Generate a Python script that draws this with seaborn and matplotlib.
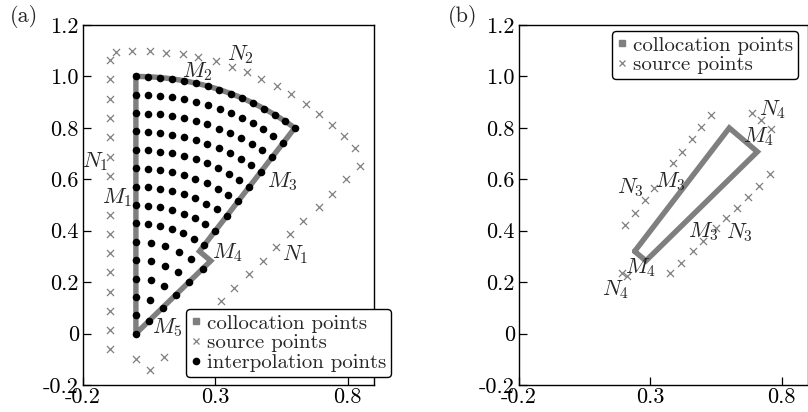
import numpy as np
import pandas as pd
import matplotlib
matplotlib.use("Agg")
import matplotlib.pyplot as plt
from matplotlib.lines import Line2D
import seaborn as sns

# ---- panel (a): interpolation grid, one radius per row + angles (deg) of the dots in that row
interp_radius = [0.0, 0.071, 0.143, 0.214, 0.286, 0.357, 0.429, 0.5, 0.571,
                 0.643, 0.714, 0.786, 0.857, 0.929, 1.0]
interp_angles = [
    [90],
    [90, 45],
    [90, 67.5, 45],
    [90, 75, 60, 45],
    [90, 78.8, 67.5, 56.3, 45],
    [90, 81, 72, 63, 54, 45],
    [90, 83.9, 77.7, 71.6, 65.4, 59.3, 53.1],
    [90, 84.7, 79.5, 74.2, 68.9, 63.7, 58.4, 53.1],
    [90, 85.4, 80.8, 76.2, 71.6, 67.0, 62.3, 57.7, 53.1],
    [90, 85.9, 81.8, 77.7, 73.6, 69.5, 65.4, 61.3, 57.2, 53.1],
    [90, 86.3, 82.6, 78.9, 75.3, 71.6, 67.9, 64.2, 60.5, 56.8, 53.1],
    [90, 86.6, 83.3, 79.9, 76.6, 73.2, 69.9, 66.5, 63.2, 59.8, 56.5, 53.1],
    [90, 86.9, 83.9, 80.8, 77.7, 74.6, 71.6, 68.5, 65.4, 62.3, 59.3, 56.2, 53.1],
    [90, 87.2, 84.3, 81.5, 78.7, 75.8, 73.0, 70.1, 67.3, 64.5, 61.6, 58.8, 56.0, 53.1],
    [90, 87.4, 84.7, 82.1, 79.5, 76.8, 74.2, 71.6, 68.9, 66.3, 63.7, 61.0, 58.4, 55.8, 53.1],
]

# boundary (collocation) paths, polar form: radius / angle in degrees
colloc_a_r = [0, 1, 1, 1, 1, 1, 1, 1, 1, 1, 1, 1, 1, 1, 1, 1, 0.4, 0.4, 0]
colloc_a_deg = [90, 90, 87.4, 84.7, 82.1, 79.5, 76.8, 74.2, 71.6, 68.9, 66.3, 63.7,
                61.0, 58.4, 55.8, 53.1, 53.1, 45, 45]
colloc_b_r = [0.4, 1, 1, 0.4, 0.4]
colloc_b_deg = [53.1, 53.1, 45, 45, 53.1]

# source points
src_a_x = [-0.097, -0.097, -0.097, -0.097, -0.097, -0.097, -0.097, -0.097, -0.097,
           -0.097, -0.097, -0.097, -0.097, -0.097, -0.097,
           -0.077, -0.014, 0.053, 0.112, 0.177, 0.234, 0.301, 0.364, 0.420, 0.474,
           0.534, 0.588, 0.643, 0.691, 0.741, 0.785, 0.829, 0.848, 0.794, 0.743,
           0.691, 0.632, 0.584, 0.531, 0.479, 0.426, 0.370, 0.320,
           0.0, 0.055, 0.108]
src_a_y = [1.064, 0.989, 0.913, 0.838, 0.763, 0.688, 0.613, 0.463, 0.388, 0.313,
           0.238, 0.163, 0.088, 0.013, -0.060,
           1.096, 1.100, 1.100, 1.093, 1.086, 1.075, 1.060, 1.038, 1.016, 0.989,
           0.963, 0.931, 0.892, 0.853, 0.812, 0.767, 0.722, 0.650, 0.602, 0.543,
           0.494, 0.439, 0.389, 0.336, 0.282, 0.230, 0.178, 0.126,
           -0.100, -0.143, -0.091]
src_b_x = [0.204, 0.241, 0.279, 0.314, 0.385, 0.419, 0.460, 0.491, 0.529,
           0.687, 0.722, 0.760,
           0.754, 0.714, 0.672, 0.631, 0.587, 0.548, 0.501, 0.464, 0.416, 0.376,
           0.191, 0.210]
src_b_y = [0.424, 0.469, 0.521, 0.566, 0.663, 0.708, 0.756, 0.803, 0.851,
           0.857, 0.829, 0.795,
           0.622, 0.575, 0.531, 0.489, 0.450, 0.411, 0.359, 0.320, 0.275, 0.236,
           0.236, 0.223]

labels_a = [("$N_2$", 0.394, 1.084), ("$M_2$", 0.232, 1.019), ("$N_1$", -0.152, 0.670),
            ("$M_1$", -0.070, 0.527), ("$M_3$", 0.552, 0.592), ("$M_4$", 0.345, 0.314),
            ("$N_1$", 0.603, 0.307), ("$M_5$", 0.118, 0.023)]
labels_b = [("$N_4$", 0.767, 0.870), ("$M_4$", 0.713, 0.767), ("$N_3$", 0.225, 0.566),
            ("$M_3$", 0.375, 0.592), ("$M_3$", 0.500, 0.398), ("$N_3$", 0.638, 0.392),
            ("$M_4$", 0.262, 0.256), ("$N_4$", 0.168, 0.172)]

GREY = "#7f7f7f"


def polar_to_xy(r, deg):
    r = np.asarray(r, dtype=float)
    t = np.deg2rad(np.asarray(deg, dtype=float))
    return r * np.cos(t), r * np.sin(t)


sns.set_theme(style="white")
plt.rcParams.update({
    "font.family": ["cmr10", "DejaVu Serif"],
    "mathtext.fontset": "cm",
    "axes.unicode_minus": False,
    "axes.formatter.use_mathtext": True,
    "axes.edgecolor": "black",
    "axes.linewidth": 1.0,
    "xtick.bottom": True, "ytick.left": True,
    "xtick.direction": "in", "ytick.direction": "in",
    "xtick.major.size": 6, "ytick.major.size": 6,
    "xtick.major.width": 0.9, "ytick.major.width": 0.9,
    "xtick.color": "black", "ytick.color": "black",
})

fig = plt.figure(figsize=(8.08, 4.12), dpi=100)
ax_a = fig.add_axes([83 / 808, 27 / 412, 291 / 808, 360 / 412])
ax_b = fig.add_axes([519 / 808, 27 / 412, 289 / 808, 360 / 412])


def draw_panel(ax, c_r, c_deg, sx, sy, labels):
    cx, cy = polar_to_xy(c_r, c_deg)
    sns.lineplot(x=cx, y=cy, sort=False, estimator=None, color=GREY, lw=3.9,
                 ax=ax, solid_joinstyle="miter")
    sns.scatterplot(x=sx, y=sy, marker="x", color=GREY, s=26, linewidth=0.9, ax=ax)
    for txt, x, y in labels:
        ax.text(x, y, txt, fontsize=16, ha="center", va="center")
    ax.set_xlim(-0.2, 0.9)
    ax.set_ylim(-0.2, 1.2)
    ax.set_xticks([-0.2, 0.3, 0.8])
    ax.set_xticklabels(["-0.2", "0.3", "0.8"])
    ax.set_yticks([-0.2, 0, 0.2, 0.4, 0.6, 0.8, 1.0, 1.2])
    ax.set_yticklabels(["-0.2", "0", "0.2", "0.4", "0.6", "0.8", "1.0", "1.2"])
    ax.tick_params(labelsize=16, pad=3)
    ax.tick_params(axis="x", pad=2)
    for sp in ax.spines.values():
        sp.set_visible(True)


draw_panel(ax_a, colloc_a_r, colloc_a_deg, src_a_x, src_a_y, labels_a)
draw_panel(ax_b, colloc_b_r, colloc_b_deg, src_b_x, src_b_y, labels_b)

# interpolation points
rows = []
for r, angs in zip(interp_radius, interp_angles):
    for a in angs:
        rows.append((r, a))
ix, iy = polar_to_xy([p[0] for p in rows], [p[1] for p in rows])
interp = pd.DataFrame({"x": ix, "y": iy})
sns.scatterplot(data=interp, x="x", y="y", color="black", s=30, linewidth=0,
                ax=ax_a, zorder=3)

for ax in (ax_a, ax_b):
    ax.set_xlabel("")
    ax.set_ylabel("")

h_col = Line2D([], [], ls="none", marker="s", color=GREY, markersize=4)
h_src = Line2D([], [], ls="none", marker="x", color=GREY, markersize=4.5, mew=0.9)
h_int = Line2D([], [], ls="none", marker="o", color="black", markersize=4.5)
leg_kw = dict(fontsize=15, fancybox=True, framealpha=1, edgecolor="black",
              handlelength=0.5, handletextpad=0.25, borderpad=0.25,
              labelspacing=0.05, borderaxespad=0)
leg = ax_a.legend([h_col, h_src, h_int],
                  ["collocation points", "source points", "interpolation points"],
                  loc="lower left", bbox_to_anchor=(0.354, 0.022), **leg_kw)
leg.get_frame().set_linewidth(1.0)
leg = ax_b.legend([h_col, h_src], ["collocation points", "source points"],
                  loc="upper left", bbox_to_anchor=(0.321, 0.984), **leg_kw)
leg.get_frame().set_linewidth(1.0)

fig.text(24 / 808, 1 - 16 / 412, "(a)", fontsize=16, ha="center", va="center")
fig.text(463 / 808, 1 - 16 / 412, "(b)", fontsize=16, ha="center", va="center")

fig.savefig("out.png", dpi=100)
